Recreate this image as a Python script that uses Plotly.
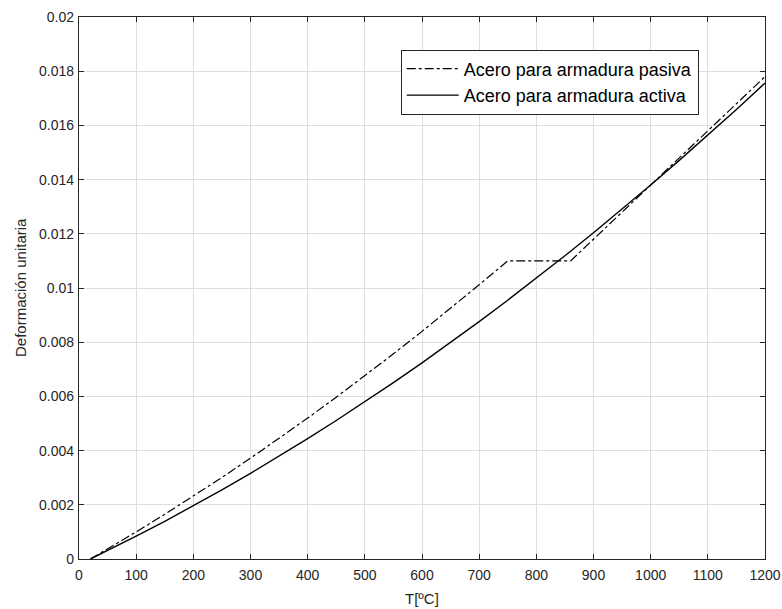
import plotly.graph_objects as go

# Passive reinforcement steel
T_pasiva = [20, 50, 100, 150, 200, 250, 300, 350, 400, 450, 500, 550, 600, 650, 700, 750,
            860, 900, 950, 1000, 1050, 1100, 1150, 1200]
def_pasiva = [0.0, 0.00037, 0.00100, 0.00165, 0.00232, 0.00301, 0.00372, 0.00445, 0.00520,
              0.00597, 0.00676, 0.00757, 0.00840, 0.00925, 0.01012, 0.0110,
              0.0110, 0.0118, 0.0128, 0.0138, 0.0148, 0.0158, 0.0168, 0.0178]

# Active (prestressing) steel
T_activa = [20, 50, 100, 150, 200, 250, 300, 350, 400, 450, 500, 550, 600, 650, 700, 750,
            800, 850, 900, 950, 1000, 1050, 1100, 1150, 1200]
def_activa = [0.0, 0.00031, 0.00084, 0.00139, 0.00196, 0.00255, 0.00316, 0.00379, 0.00444,
              0.00511, 0.00580, 0.00651, 0.00724, 0.00799, 0.00876, 0.00955,
              0.01036, 0.01119, 0.01204, 0.01291, 0.01380, 0.01471, 0.01564, 0.01659, 0.01756]

x_ticks = list(range(0, 1201, 100))
y_ticks = [0, 0.002, 0.004, 0.006, 0.008, 0.01, 0.012, 0.014, 0.016, 0.018, 0.02]
y_labels = ["0", "0.002", "0.004", "0.006", "0.008", "0.01", "0.012", "0.014", "0.016", "0.018", "0.02"]

fig = go.Figure()
fig.add_trace(go.Scatter(x=T_pasiva, y=def_pasiva, mode="lines",
                         name="Acero para armadura pasiva",
                         line=dict(color="black", width=1.2, dash="dashdot")))
fig.add_trace(go.Scatter(x=T_activa, y=def_activa, mode="lines",
                         name="Acero para armadura activa",
                         line=dict(color="black", width=1.4)))

axis_common = dict(showline=True, linecolor="#262626", linewidth=1.3, mirror="ticks",
                   ticks="inside", ticklen=5, tickcolor="#262626", tickwidth=1.3,
                   showgrid=True, gridcolor="#dedede", gridwidth=1, zeroline=False,
                   automargin=False,
                   tickfont=dict(family="Liberation Sans, Arial", size=14, color="#262626"))

fig.update_layout(
    width=782, height=609,
    margin=dict(l=79, r=17, t=17, b=50),
    paper_bgcolor="white", plot_bgcolor="white",
    font=dict(family="Liberation Sans, Arial", size=14, color="#262626"),
    xaxis=dict(range=[0, 1200], tickvals=x_ticks, ticktext=[str(v) for v in x_ticks],
               ticklabelstandoff=3, **axis_common),
    yaxis=dict(range=[0, 0.02], tickvals=y_ticks, ticktext=y_labels,
               ticklabelstandoff=1, **axis_common),
    legend=dict(x=0.469, y=0.94, xanchor="left", yanchor="top",
                bgcolor="white", bordercolor="#262626", borderwidth=1,
                font=dict(size=18, color="black"), itemwidth=52,
                tracegroupgap=0),
    showlegend=True,
    annotations=[
        dict(text="T[ºC]", xref="paper", yref="paper", x=0.5, y=-0.072,
             xanchor="center", yanchor="middle", showarrow=False,
             font=dict(size=15, color="#262626")),
        dict(text="Deformación unitaria", xref="paper", yref="paper", x=-0.086, y=0.5,
             xanchor="center", yanchor="middle", showarrow=False, textangle=-90,
             font=dict(size=15, color="#262626")),
    ],
)

fig.write_html("out.html")
